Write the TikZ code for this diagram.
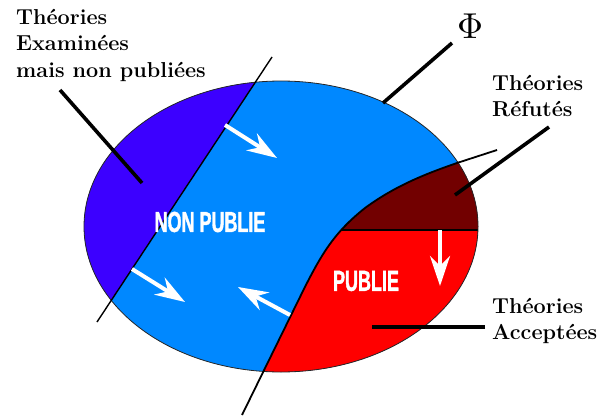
\documentclass[tikz,border=0pt]{standalone}
\usepackage{fontspec}
\usepackage{tikz}
\usetikzlibrary{positioning}
\usetikzlibrary{calc}
\usetikzlibrary{arrows.meta}
\newfontfamily\bannerfont[FakeStretch=0.62, FakeBold=1.2]{Liberation Sans}
\definecolor{examinedblue}{HTML}{3C00FF}
\definecolor{paleblue}{HTML}{0088FF}
\definecolor{refutedred}{HTML}{720000}
\definecolor{acceptedred}{HTML}{FF0000}
\tikzset{
	tagtext/.style={font=\fontsize{21.6}{26.5}\selectfont\bfseries, align=left, anchor=north west, inner sep=0pt},
	banner/.style={font=\fontsize{29}{29}\selectfont\bannerfont\bfseries, text=white, inner sep=0pt},
	pointer/.style={line width=3.6pt},
	divide/.style={line width=1.4pt},
	flow/.style={white, line width=4pt, -{Stealth[length=30pt,width=20pt,inset=10pt]}},
}

\begin{document}
\begin{tikzpicture}[x=1pt, y=-1pt]
		\useasboundingbox (0,0) rectangle (601,417);
		\coordinate (cutA) at (272,57);
		\coordinate (cutB) at (97,322);
		\coordinate (phibottom) at (242,415);
		\coordinate (phiknee) at (300,297);
		\coordinate (phirim) at (457,163);
		\coordinate (phitop) at (497,150);
		\fill [paleblue] (281,226.5) ellipse [x radius=197pt, y radius=145.5pt];
		\begin{scope}
			\clip (281,226.5) ellipse [x radius=197pt, y radius=145.5pt];
			\fill [examinedblue] (305,7) -- (64,372) -- (0,372) -- (0,7) -- cycle;
			\fill [acceptedred] (phibottom) -- (phiknee) .. controls (322,252) and (335,232) .. (365,208) .. controls (395,186) and (425,174) .. (phirim) -- (phitop) -- (601,150) -- (601,417) -- cycle;
			\begin{scope}
				\clip (0,0) rectangle (601,230);
				\fill [refutedred] (phibottom) -- (phiknee) .. controls (322,252) and (335,232) .. (365,208) .. controls (395,186) and (425,174) .. (phirim) -- (phitop) -- (601,150) -- (601,417) -- cycle;
			\end{scope}
			\draw [divide] (341,230) -- (601,230);
		\end{scope}
		\draw [black!85, line width=0.8pt] (281,226.5) ellipse [x radius=197pt, y radius=145.5pt];
		\draw [divide] (cutA) -- (cutB);
		\draw [line width=1.8pt] (phibottom) -- (phiknee) .. controls (322,252) and (335,232) .. (365,208) .. controls (395,186) and (425,174) .. (phirim) -- (phitop);

		\draw [flow] (225,125) -- (277,158);
		\draw [flow] (132,269) -- (185,302);
		\draw [flow] (290,315) -- (238,287);
		\draw [flow] (440,230) -- (440,286);

		\node [banner] (nonpublie) at (210,222) {NON PUBLIE};
		\node [banner] (publie) at (366,281) {PUBLIE};
		\node [tagtext] (examinees) at (16,9) {Théories\\Examinées\\mais non publiées};
		\node [tagtext] (refutes) at (492,75) {Théories\\Réfutés};
		\node [tagtext] (acceptees) at (492,298) {Théories\\Acceptées};
		\node [scale=3.6, inner sep=0pt] (phi) at (470,26) {$\Phi$};

		\coordinate (examend) at (142,183);
		\coordinate (phiend) at (383,103);
		\coordinate (refend) at (455,195);
		\coordinate (accend) at (372,327);
		\draw [pointer] (60,90) -- (examend);
		\draw [pointer] (452,43) -- (phiend);
		\draw [pointer] (549,127) -- (refend);
		\draw [pointer] (485,327) -- (accend);
\end{tikzpicture}
\end{document}
